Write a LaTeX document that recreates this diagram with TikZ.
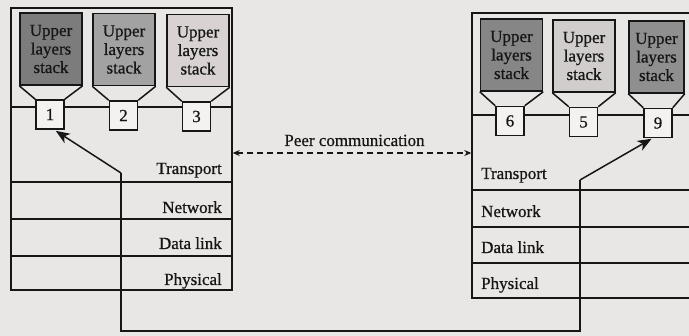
\documentclass[tikz,border=0pt]{standalone}
\usepackage{fontspec}
\setmainfont{Liberation Serif}
\newfontfamily\inkfont[FakeBold=0.7]{Liberation Serif}
\usetikzlibrary{arrows.meta}
\definecolor{paper}{HTML}{E9E7E5}
\definecolor{ink}{HTML}{161616}
\definecolor{stackdark}{HTML}{7C7C7C}
\definecolor{stackmid}{HTML}{A2A2A2}
\definecolor{stacklight}{HTML}{D8D2D2}
\definecolor{stackdarkB}{HTML}{868686}
\definecolor{stacklightB}{HTML}{D2CDCD}
\definecolor{stackmidB}{HTML}{8F8F8F}
\begin{document}
\begin{tikzpicture}[x=1pt,y=-1pt,
  txt/.style={font=\inkfont\fontsize{17}{18.5}\selectfont, text=ink, inner sep=0pt},
  hostbox/.style={draw=ink, line width=1.5pt, inner sep=0pt},
  stackbox/.style={txt, draw=ink, line width=1.5pt, minimum width=62pt,
    minimum height=72pt, align=center},
  portbox/.style={txt, draw=ink, fill=paper!55!white, line width=1.5pt,
    minimum width=28pt, minimum height=29pt},
  wire/.style={draw=ink, line width=1.5pt},
  funnel/.style={draw=ink, line width=1.5pt},
  headarrow/.style={arrows={-Stealth[length=14pt,width=11pt,inset=4pt]}},
  peer/.style={draw=ink, line width=1.1pt, dash pattern=on 6pt off 4pt,
    arrows={Stealth[length=7pt,width=6pt]-Stealth[length=7pt,width=6pt]}}
]
\useasboundingbox (0,0) rectangle (689,336);
\fill[paper] (0,0) rectangle (689,336);

% host frames
\node[hostbox, minimum width=221pt, minimum height=282pt] (hostA) at (121.5,149) {};
\node[hostbox, minimum width=235pt, minimum height=285pt] (hostB) at (589.5,155.5) {};

% divider under the upper layers, and layer boundaries
\draw[wire] (hostA.west |- 0,107) -- (hostA.east |- 0,107);
\draw[wire] (hostA.west |- 0,182) -- (hostA.east |- 0,182);
\draw[wire] (hostA.west |- 0,219) -- (hostA.east |- 0,219);
\draw[wire] (hostA.west |- 0,256) -- (hostA.east |- 0,256);

\draw[wire] (hostB.west |- 0,115) -- (hostB.east |- 0,115);
\draw[wire] (hostB.west |- 0,190) -- (hostB.east |- 0,190);
\draw[wire] (hostB.west |- 0,227) -- (hostB.east |- 0,227);
\draw[wire] (hostB.west |- 0,263) -- (hostB.east |- 0,263);

% upper layer stacks and their ports, host A
\node[stackbox, fill=stackdark]  (s1) at (51,49)   {Upper\\layers\\stack};
\node[stackbox, fill=stackmid]   (s2) at (124,49.5) {Upper\\layers\\stack};
\node[stackbox, fill=stacklight] (s3) at (198,50.5) {Upper\\layers\\stack};
\node[portbox] (p1) at (50,114.5)   {1};
\node[portbox] (p2) at (123.5,115.5) {2};
\node[portbox] (p3) at (196.5,116.5) {3};
\foreach \s/\p in {s1/p1,s2/p2,s3/p3}
  \draw[funnel] (\s.south west) -- (\p.north west) (\s.south east) -- (\p.north east);

% upper layer stacks and their ports, host B
\node[stackbox, fill=stackdarkB]  (s6) at (511.5,55) {Upper\\layers\\stack};
\node[stackbox, fill=stacklightB] (s5) at (584,56)   {Upper\\layers\\stack};
\node[stackbox, fill=stackmidB, minimum width=55pt] (s9) at (656.5,57) {Upper\\layers\\stack};
\node[portbox] (p6) at (510,121)   {6};
\node[portbox] (p5) at (583.5,122) {5};
\node[portbox] (p9) at (658,123)   {9};
\foreach \s/\p in {s6/p6,s5/p5,s9/p9}
  \draw[funnel] (\s.south west) -- (\p.north west) (\s.south east) -- (\p.north east);

% layer names
\node[txt, anchor=base east] (tA) at (222,174) {Transport};
\node[txt, anchor=base east] (nA) at (222,213) {Network};
\node[txt, anchor=base east] (dA) at (222,249) {Data link};
\node[txt, anchor=base east] (yA) at (222,285) {Physical};

\node[txt, anchor=base west] (tB) at (481,179) {Transport};
\node[txt, anchor=base west] (nB) at (481,217) {Network};
\node[txt, anchor=base west] (dB) at (481,253) {Data link};
\node[txt, anchor=base west] (yB) at (481,289) {Physical};

% path of the data between port 1 and port 9
\coordinate (jA) at (121,173);
\coordinate (jB) at (580,180);
\coordinate (jC) at (121,331);
\draw[wire, headarrow, shorten >=2pt] (jA) -- (p1.-75);
\draw[wire, headarrow, shorten >=1pt] (jB) -- (p9.-110);
\draw[wire] (jA) -- (jC) -| (jB);

% logical peer link
\draw[peer] (hostA.east |- 0,153) -- (hostB.west |- 0,153);
\node[txt, anchor=base] (peerlbl) at (354.5,146) {Peer communication};
\end{tikzpicture}
\end{document}
